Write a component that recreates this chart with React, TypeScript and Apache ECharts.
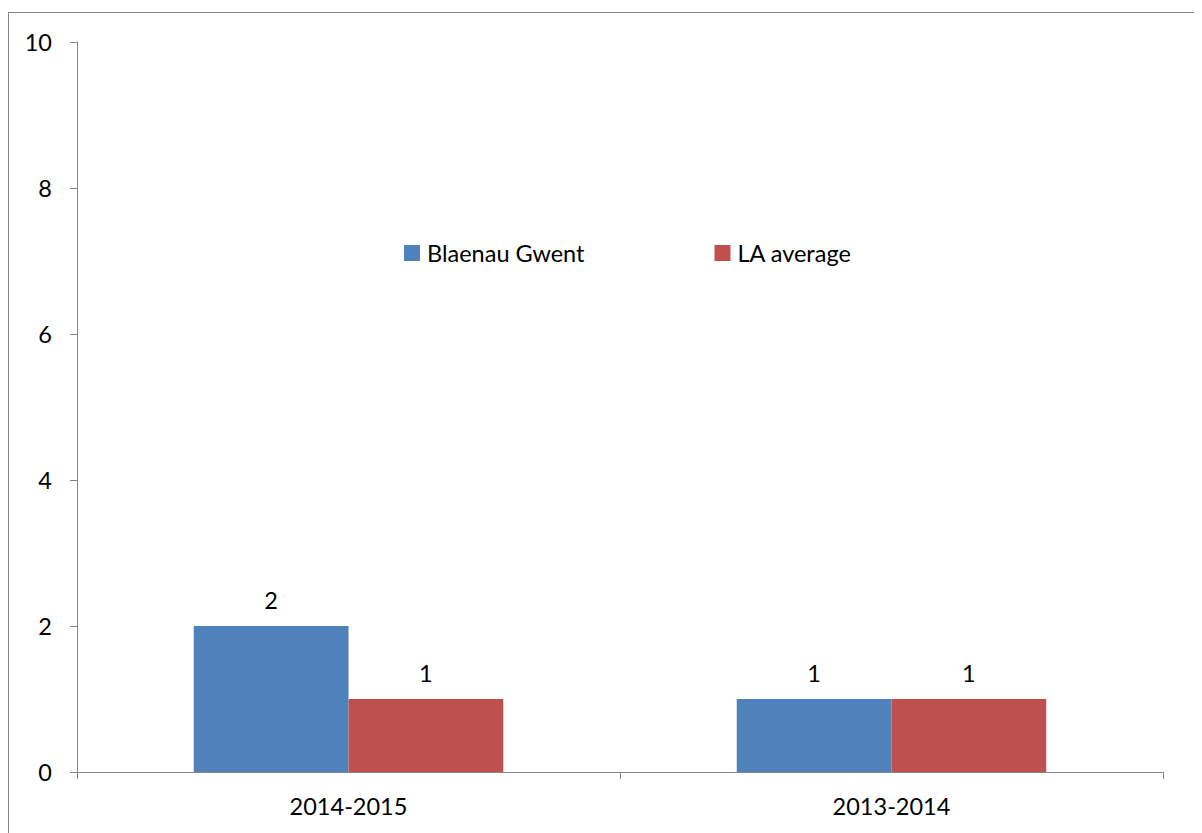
import React, { useEffect, useRef } from "react";
import * as echarts from "echarts";

const categories = ["2014-2015", "2013-2014"];
const blaenauGwent = [2, 1];
const laAverage = [1, 1];
const seriesNames = ["Blaenau Gwent", "LA average"];

const FONT = "Lato";
const FS = 23.5;

export default function App() {
  const ref = useRef<HTMLDivElement>(null);
  useEffect(() => {
    if (!ref.current) return;
    const chart = echarts.init(ref.current, null, { renderer: "svg" });
    const label = {
      show: true,
      position: "top",
      distance: 14,
      color: "#000",
      fontFamily: FONT,
      fontSize: FS,
    };
    chart.setOption({
      animation: false,
      textStyle: { fontFamily: FONT },
      grid: { left: 69, right: 39, top: 34, bottom: 61, containLabel: false },
      legend: {
        left: 396,
        top: 233,
        padding: 0,
        itemWidth: 16,
        itemHeight: 16,
        itemGap: 130,
        icon: "rect",
        textStyle: { fontFamily: FONT, fontSize: FS, color: "#000", padding: [0, 0, 0, 2] },
        data: seriesNames,
      },
      xAxis: {
        type: "category",
        data: categories,
        axisLine: { lineStyle: { color: "#868686", width: 1 } },
        axisTick: { show: true, length: 7, lineStyle: { color: "#868686" } },
        axisLabel: { color: "#000", fontFamily: FONT, fontSize: FS, margin: 22 },
      },
      yAxis: {
        type: "value",
        min: 0,
        max: 10,
        interval: 2,
        splitLine: { show: false },
        axisLine: { show: true, lineStyle: { color: "#868686", width: 1 } },
        axisTick: { show: true, length: 7, lineStyle: { color: "#868686" } },
        axisLabel: { color: "#000", fontFamily: FONT, fontSize: FS, margin: 25 },
      },
      series: [
        {
          name: seriesNames[0],
          type: "bar",
          data: blaenauGwent,
          barGap: "0%",
          barCategoryGap: "43%",
          itemStyle: { color: "#4F81BD" },
          label,
        },
        {
          name: seriesNames[1],
          type: "bar",
          data: laAverage,
          barGap: "0%",
          barCategoryGap: "43%",
          itemStyle: { color: "#C0504D" },
          label,
        },
      ],
    });
    return () => chart.dispose();
  }, []);
  return (
    <div style={{ position: "relative", width: 1194, height: 825 }}>
      <div
        style={{
          position: "absolute",
          left: 0,
          top: 4,
          width: 1220,
          height: 900,
          border: "1.5px solid #868686",
          boxSizing: "border-box",
        }}
      />
      <div ref={ref} style={{ position: "absolute", left: 0, top: 0, width: 1194, height: 825 }} />
    </div>
  );
}
